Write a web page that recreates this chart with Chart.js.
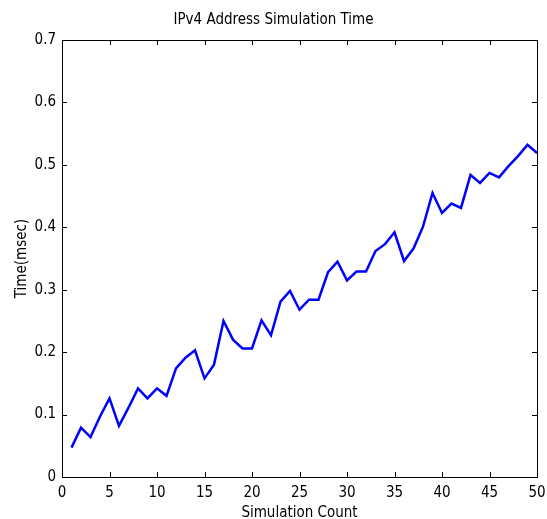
<!DOCTYPE html>
<html>
<head>
<meta charset="utf-8">
<script src="https://cdn.jsdelivr.net/npm/chart.js@4/dist/chart.umd.min.js"></script>
<style>
  html, body { margin: 0; padding: 0; background: #fff; }
  canvas { display: block; }
</style>
</head>
<body>
<canvas id="chart" width="547" height="519"></canvas>
<script>
const counts = [
  1, 2, 3, 4, 5, 6, 7, 8, 9, 10,
  11, 12, 13, 14, 15, 16, 17, 18, 19, 20,
  21, 22, 23, 24, 25, 26, 27, 28, 29, 30,
  31, 32, 33, 34, 35, 36, 37, 38, 39, 40,
  41, 42, 43, 44, 45, 46, 47, 48, 49, 50
];
const times = [
  0.047, 0.079, 0.064, 0.097, 0.126, 0.082, 0.111, 0.142, 0.126, 0.142,
  0.130, 0.174, 0.191, 0.203, 0.158, 0.180, 0.250, 0.220, 0.206, 0.206,
  0.251, 0.227, 0.281, 0.298, 0.268, 0.284, 0.284, 0.328, 0.345, 0.315,
  0.329, 0.329, 0.362, 0.373, 0.392, 0.346, 0.366, 0.401, 0.455, 0.423,
  0.438, 0.431, 0.484, 0.471, 0.487, 0.480, 0.498, 0.514, 0.532, 0.519
];
const xTicks = [0, 5, 10, 15, 20, 25, 30, 35, 40, 45, 50];
const yTicks = [0, 0.1, 0.2, 0.3, 0.4, 0.5, 0.6, 0.7];
const yTickLabels = ["0", "0.1", "0.2", "0.3", "0.4", "0.5", "0.6", "0.7"];

const FONT = '"Liberation Sans Narrow", "DejaVu Sans Condensed", sans-serif';

// matlab style box with inward ticks on all four sides
const boxPlugin = {
  id: "box",
  afterDraw(chart) {
    const ctx = chart.ctx;
    const a = chart.chartArea;
    const xs = chart.scales.x;
    const ys = chart.scales.y;
    const len = 5;
    ctx.save();
    ctx.strokeStyle = "#000";
    ctx.lineWidth = 1;
    ctx.beginPath();
    for (let t of xs.ticks) {
      let px = Math.round(xs.getPixelForValue(t.value)) + 0.5;
      ctx.moveTo(px, a.bottom);
      ctx.lineTo(px, a.bottom - len);
      ctx.moveTo(px, a.top);
      ctx.lineTo(px, a.top + len);
    }
    for (let t of ys.ticks) {
      let py = Math.round(ys.getPixelForValue(t.value)) + 0.5;
      ctx.moveTo(a.left, py);
      ctx.lineTo(a.left + len, py);
      ctx.moveTo(a.right, py);
      ctx.lineTo(a.right - len, py);
    }
    ctx.stroke();
    ctx.strokeRect(Math.round(a.left) + 0.5, Math.round(a.top) + 0.5,
      Math.round(a.right - a.left), Math.round(a.bottom - a.top));
    ctx.restore();
  },
};

new Chart(document.getElementById("chart").getContext("2d"), {
  type: "line",
  data: {
    datasets: [
      {
        label: "time",
        data: counts.map((c, i) => ({ x: c, y: times[i] })),
        borderColor: "#0000ff",
        backgroundColor: "#0000ff",
        borderWidth: 2.5,
        pointRadius: 0,
        tension: 0,
        fill: false,
      },
    ],
  },
  options: {
    responsive: false,
    animation: false,
    layout: { padding: { left: 0, right: 0, top: 0, bottom: 0 } },
    plugins: {
      legend: { display: false },
      tooltip: { enabled: false },
      title: {
        display: true,
        text: "IPv4 Address Simulation Time",
        color: "#000",
        font: { family: FONT, size: 15, weight: "normal" },
        padding: { top: 11, bottom: 11 },
      },
    },
    scales: {
      x: {
        type: "linear",
        min: 0,
        max: 50,
        grid: { display: false, drawTicks: false },
        border: { display: false },
        afterBuildTicks: (scale) => {
          scale.ticks = xTicks.map((v) => ({ value: v }));
        },
        afterFit: (scale) => {
          scale.height = 42;
          scale.paddingLeft = 0;
          scale.paddingRight = 10;
        },
        ticks: {
          color: "#000",
          padding: 7,
          maxRotation: 0,
          autoSkip: false,
          font: { family: FONT, size: 15 },
        },
        title: {
          display: true,
          text: "Simulation Count",
          color: "#000",
          font: { family: FONT, size: 15, lineHeight: 0.85 },
          padding: { top: 0, bottom: 0 },
        },
      },
      y: {
        type: "linear",
        min: 0,
        max: 0.7,
        grid: { display: false, drawTicks: false },
        border: { display: false },
        afterBuildTicks: (scale) => {
          scale.ticks = yTicks.map((v) => ({ value: v }));
        },
        afterFit: (scale) => {
          scale.width = 62;
        },
        ticks: {
          color: "#000",
          padding: 6,
          autoSkip: false,
          font: { family: FONT, size: 15 },
          callback: (value, index) => yTickLabels[index],
        },
        title: {
          display: true,
          text: "Time(msec)",
          color: "#000",
          font: { family: FONT, size: 15 },
          padding: { top: 13, bottom: 0 },
        },
      },
    },
  },
  plugins: [boxPlugin],
});
</script>
</body>
</html>
